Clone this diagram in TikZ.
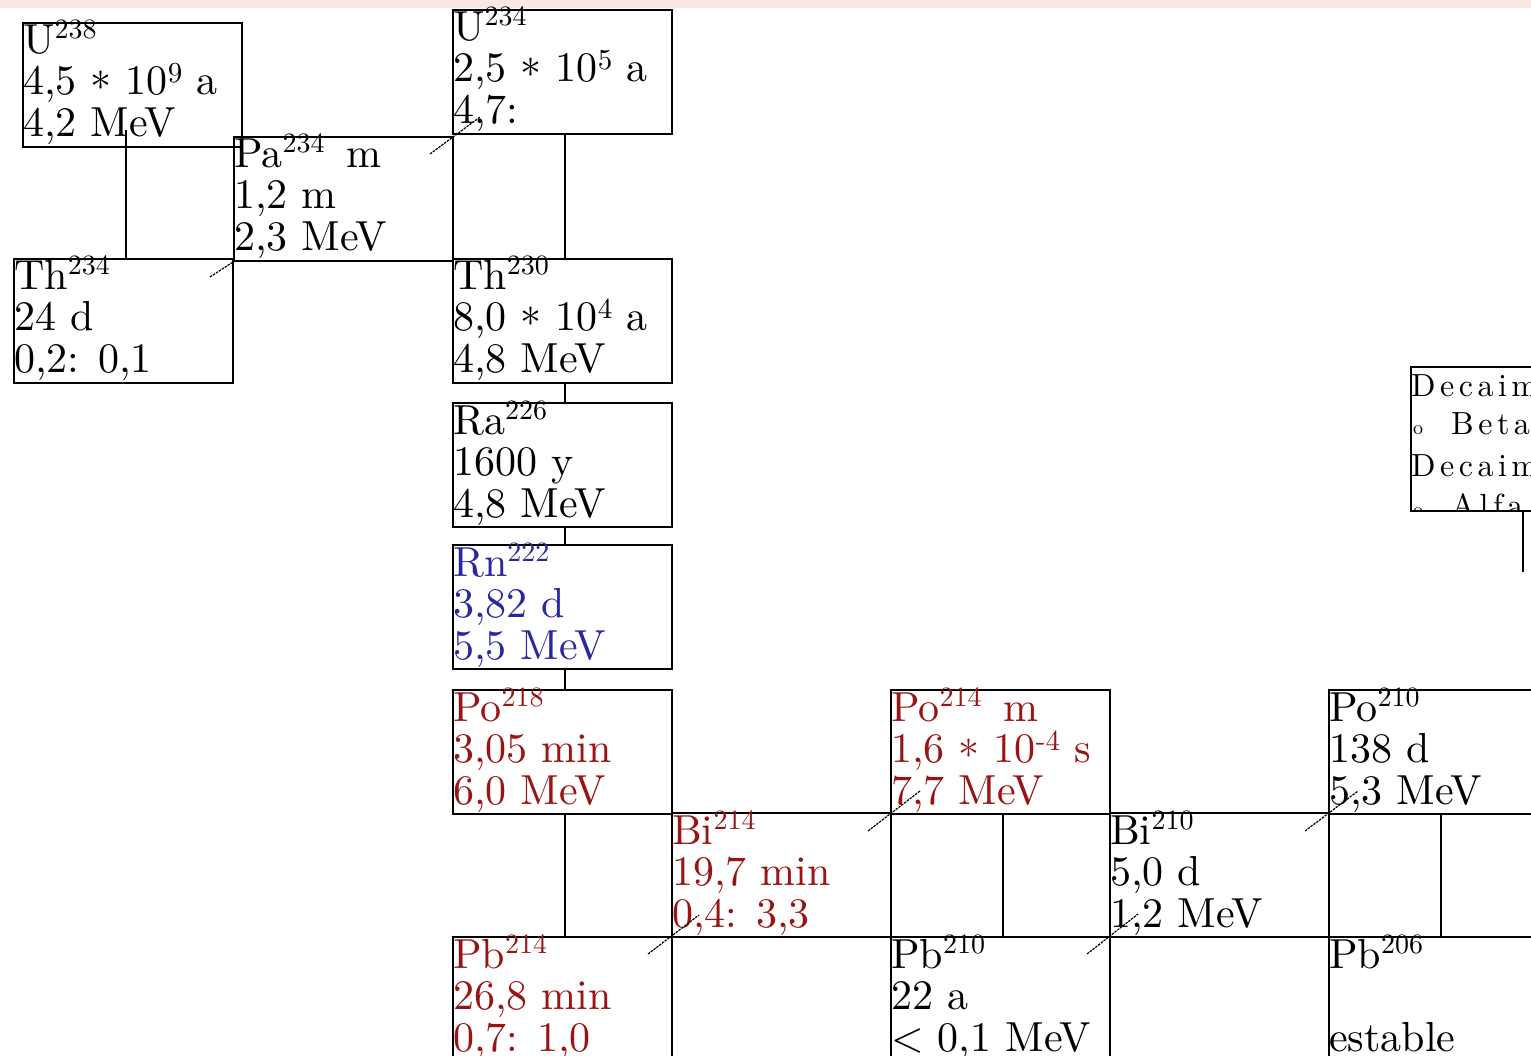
\documentclass[tikz,border=0pt]{standalone}
\usepackage{fontspec}
\setmainfont{lmroman10-regular.otf}
\newfontfamily\legendfont{lmroman10-regular.otf}[LetterSpace=14]
\usetikzlibrary{calc}
\definecolor{nred}{HTML}{991414}
\definecolor{nblue}{HTML}{2828A0}
\definecolor{band}{HTML}{FDE6E6}
\newcommand\mass[1]{\raisebox{15pt}{\fontsize{28}{28}\selectfont #1}}
\newcommand\expo[1]{\raisebox{12pt}{\fontsize{29}{29}\selectfont #1}}
\newcommand\tms{\raisebox{-8pt}{*}}
\newcommand\nucbox[6]{%
  \node[nuc] (#1) at (#2) {};
  \node[txt,text=#3] (#1-a) at ($(#1.north west)+(1,32)$) {#4};
  \node[txt,text=#3] (#1-b) at ($(#1.north west)+(1,73)$) {#5};
  \node[txt,text=#3] (#1-c) at ($(#1.north west)+(1,115)$) {#6};}
\begin{document}
\begin{tikzpicture}[x=1pt,y=-1pt,
  nuc/.style={draw=black, line width=2pt, minimum width=219pt, minimum height=124pt, inner sep=0pt, anchor=north west},
  txt/.style={anchor=base west, inner sep=0pt, font=\fontsize{42}{42}\selectfont},
  ltxt/.style={anchor=base west, inner sep=0pt, font=\legendfont\fontsize{32}{32}\selectfont},
  alphaline/.style={line width=2pt, black},
  betaline/.style={line width=1.2pt, black, dash pattern=on 2.5pt off 1pt}]
\useasboundingbox (0,0) rectangle (1531,1056);
\clip (0,0) rectangle (1531,1056);
\fill[white] (0,0) rectangle (1531,1056);
\fill[band] (0,0) rectangle (1531,8);

\nucbox{U238}{22,22}{black}{U\mass{238}}{4,5 \tms\ 10\expo{9} a}{4,2 MeV}
\nucbox{Pa234}{233,136}{black}{Pa\mass{234}\hspace{8pt} m}{1,2 m}{2,3 MeV}
\nucbox{Th234}{13,258}{black}{Th\mass{234}}{24 d}{0,2: 0,1}
\nucbox{U234}{452,9}{black}{U\mass{234}}{2,5 \tms\ 10\expo{5} a}{4,7:}
\nucbox{Th230}{452,258}{black}{Th\mass{230}}{8,0 \tms\ 10\expo{4} a}{4,8 MeV}
\nucbox{Ra226}{452,402}{black}{Ra\mass{226}}{1600 y}{4,8 MeV}
\nucbox{Rn222}{452,544}{nblue}{Rn\mass{222}}{3,82 d}{5,5 MeV}
\nucbox{Po218}{452,689}{nred}{Po\mass{218}}{3,05 min}{6,0 MeV}
\nucbox{Bi214}{671,812}{nred}{Bi\mass{214}}{19,7 min}{0,4: 3,3}
\nucbox{Pb214}{452,936}{nred}{Pb\mass{214}}{26,8 min}{0,7: 1,0}
\nucbox{Po214}{890,689}{nred}{Po\mass{214}\hspace{8pt} m}{1,6 \tms\ 10\expo{-4} s}{7,7 MeV}
\nucbox{Bi210}{1109,812}{black}{Bi\mass{210}}{5,0 d}{1,2 MeV}
\nucbox{Pb210}{890,936}{black}{Pb\mass{210}}{22 a}{< 0,1 MeV}
\nucbox{Po210}{1328,689}{black}{Po\mass{210}}{138 d}{5,3 MeV}
\nucbox{Pb206}{1328,936}{black}{Pb\mass{206}}{}{estable}

% legend
\node[nuc, minimum height=144pt] (legend) at (1410,366) {};
\begin{scope}
  \clip (1410,366) rectangle (1531,510);
  \node[ltxt] (leg-a) at (1411,396) {Decaimiento};
  \node[ltxt] (leg-b) at (1413,434) {{\fontsize{20}{20}\selectfont o}\hspace{28pt}Beta};
  \node[ltxt] (leg-c) at (1411,476) {Decaimiento};
  \node[ltxt] (leg-d) at (1413,516) {{\fontsize{20}{20}\selectfont o}\hspace{28pt}Alfa};
\end{scope}
\draw[alphaline] (legend.south) ++(2,0) -- ++(0,60);

% alpha decays
\draw[alphaline] ($(Th234.north)+(2,0)$) -- ++(0,-128);
\draw[alphaline] ($(U234.south)+(2,0)$) -- ($(Th230.north)+(2,0)$);
\draw[alphaline] ($(Th230.south)+(2,0)$) -- ($(Ra226.north)+(2,0)$);
\draw[alphaline] ($(Ra226.south)+(2,0)$) -- ($(Rn222.north)+(2,0)$);
\draw[alphaline] ($(Rn222.south)+(2,0)$) -- ($(Po218.north)+(2,0)$);
\draw[alphaline] ($(Po218.south)+(2,0)$) -- ($(Pb214.north)+(2,0)$);
\draw[alphaline] ($(Po214.south)+(2,0)$) -- ($(Pb210.north)+(2,0)$);
\draw[alphaline] ($(Po210.south)+(2,0)$) -- ($(Pb206.north)+(2,0)$);

% beta decays
\draw[betaline] ($(Th234.north east)+(-24,19)$) -- (Pa234.south west);
\draw[betaline] ($(Pa234.north east)+(-24,18)$) -- ($(U234.south west)+(28,-18)$);
\draw[betaline] ($(Pb214.north east)+(-25,18)$) -- ($(Bi214.south west)+(28,-23)$);
\draw[betaline] ($(Bi214.north east)+(-24,19)$) -- ($(Po214.south west)+(30,-24)$);
\draw[betaline] ($(Pb210.north east)+(-24,18)$) -- ($(Bi210.south west)+(29,-24)$);
\draw[betaline] ($(Bi210.north east)+(-25,19)$) -- ($(Po210.south west)+(30,-24)$);
\end{tikzpicture}
\end{document}
